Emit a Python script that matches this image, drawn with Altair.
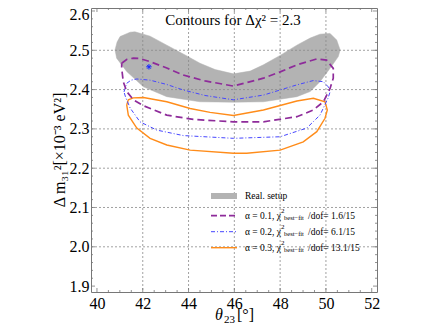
import altair as alt
import pandas as pd

# ---------------- data ----------------
# Real setup (grey band), closed outline
real_theta = [40.79, 40.88, 41.01, 41.45, 41.66, 42.32, 43.05, 43.85, 44.50, 45.16, 45.96, 46.69,
              47.27, 48.00, 48.73, 49.31, 49.74, 50.18, 50.47, 50.62, 50.54, 50.18, 49.74, 49.31,
              48.73, 47.27, 45.96, 44.50, 43.05, 42.03, 41.30, 40.86]
real_dm = [2.501, 2.521, 2.535, 2.546, 2.547, 2.536, 2.513, 2.488, 2.467, 2.451, 2.440, 2.447,
           2.463, 2.487, 2.513, 2.531, 2.541, 2.543, 2.526, 2.501, 2.484, 2.454, 2.420, 2.395,
           2.382, 2.369, 2.368, 2.369, 2.382, 2.407, 2.446, 2.480]

# alpha = 0.1 (purple dashed)
a1_theta = [41.08, 41.31, 41.59, 41.88, 42.32, 43.05, 43.77, 44.72, 45.96, 47.27, 48.00, 48.73,
            49.60, 50.03, 50.32, 50.32, 50.18, 49.89, 49.45, 48.73, 47.27, 45.96, 44.21, 43.05,
            42.03, 41.59, 41.30, 41.15, 41.08]
a1_dm = [2.467, 2.477, 2.480, 2.479, 2.471, 2.455, 2.437, 2.422, 2.409, 2.429, 2.445, 2.463,
         2.478, 2.475, 2.454, 2.429, 2.403, 2.369, 2.348, 2.331, 2.318, 2.318, 2.324, 2.335,
         2.359, 2.374, 2.395, 2.420, 2.454]

# alpha = 0.2 (blue dot-dashed)
a2_theta = [41.18, 41.30, 41.49, 41.74, 42.32, 43.05, 43.77, 44.72, 45.96, 47.27, 48.73, 49.45,
            49.89, 50.10, 50.18, 50.09, 49.74, 49.16, 48.00, 45.96, 43.77, 42.61, 41.88, 41.45,
            41.25]
a2_dm = [2.394, 2.416, 2.424, 2.427, 2.424, 2.413, 2.399, 2.385, 2.374, 2.386, 2.412, 2.423,
         2.420, 2.407, 2.394, 2.378, 2.335, 2.302, 2.280, 2.276, 2.283, 2.297, 2.318, 2.353,
         2.381]

# alpha = 0.3 (orange solid)
a3_theta = [41.30, 41.37, 41.59, 42.03, 43.05, 44.07, 44.94, 45.96, 47.27, 48.73, 49.45, 49.96,
            50.06, 49.96, 49.60, 49.01, 48.00, 46.54, 45.96, 44.07, 43.05, 42.32, 41.74, 41.37]
a3_dm = [2.361, 2.374, 2.379, 2.380, 2.369, 2.352, 2.342, 2.334, 2.348, 2.371, 2.378, 2.369,
         2.348, 2.327, 2.293, 2.267, 2.246, 2.238, 2.238, 2.246, 2.259, 2.276, 2.302, 2.335]

best_theta = [42.27]
best_dm = [2.458]

x_ticks = [40, 42, 44, 46, 48, 50, 52]
y_ticks = [1.9, 2.0, 2.1, 2.2, 2.3, 2.4, 2.5, 2.6]
x_grid = [42, 44, 46, 48, 50]
y_grid = [2.0, 2.1, 2.2, 2.3, 2.4, 2.5]
x_minor = [40 + 0.5 * k for k in range(25) if k % 4 != 0]
y_minor = [round(1.9 + 0.02 * k, 2) for k in range(36) if k % 5 != 0]

title_text = "Contours for Δχ² = 2.3"
legend_real = "Real. setup"
legend_alpha = ["α = 0.1, χ", "α = 0.2, χ", "α = 0.3, χ"]
legend_dof = ["/dof= 1.6/15", "/dof= 6.1/15", "/dof= 13.1/15"]

# ---------------- layout ----------------
W, H = 286, 284
FONT = "Liberation Serif"
PURPLE = "#8e2b9a"
BLUE = "#4646ff"
ORANGE = "#ff8c1a"
GREY = "#b3b3b3"


def closed(th, dm):
    th = list(th) + [th[0]]
    dm = list(dm) + [dm[0]]
    return pd.DataFrame({"theta": th, "dm": dm, "i": list(range(len(th)))})


xsc = alt.Scale(domain=[39.74, 52.23], nice=False, zero=False)
ysc = alt.Scale(domain=[1.885, 2.6076], nice=False, zero=False)
xaxis = alt.Axis(values=x_ticks, title=None, ticks=False, domain=False, grid=False,
                 labelFont=FONT, labelFontSize=16, labelColor="black", labelPadding=3,
                 labelFlush=False)
yaxis = alt.Axis(values=y_ticks, format=".1f", title=None, ticks=False, domain=False,
                 grid=False, labelFont=FONT, labelFontSize=16, labelColor="black",
                 labelPadding=2, labelFlush=False,
                 labelOffset={"condition": {"test": "datum.value > 2.55", "value": 4}, "value": 0})


def X(f):
    return alt.X(f, type="quantitative", scale=xsc, axis=xaxis)


def Y(f):
    return alt.Y(f, type="quantitative", scale=ysc, axis=yaxis)


layers = []

# grey band
layers.append(alt.Chart(closed(real_theta, real_dm)).mark_line(
    fill=GREY, stroke=GREY, strokeWidth=0.5, fillOpacity=1).encode(
    x=X("theta"), y=Y("dm"), order="i:Q"))

# grid
gx = pd.DataFrame({"v": x_grid})
gy = pd.DataFrame({"v": y_grid})
layers.append(alt.Chart(gx).mark_rule(color="#8a8a8a", strokeDash=[2, 2], strokeWidth=0.8).encode(x=X("v")))
layers.append(alt.Chart(gy).mark_rule(color="#8a8a8a", strokeDash=[2, 2], strokeWidth=0.8).encode(y=Y("v")))

# contours
layers.append(alt.Chart(closed(a3_theta, a3_dm)).mark_line(color=ORANGE, strokeWidth=1.4).encode(
    x=X("theta"), y=Y("dm"), order="i:Q"))
layers.append(alt.Chart(closed(a2_theta, a2_dm)).mark_line(color=BLUE, strokeWidth=1.0,
                                                          strokeDash=[4, 2, 1, 2]).encode(
    x=X("theta"), y=Y("dm"), order="i:Q"))
layers.append(alt.Chart(closed(a1_theta, a1_dm)).mark_line(color=PURPLE, strokeWidth=1.7,
                                                          strokeDash=[7, 4]).encode(
    x=X("theta"), y=Y("dm"), order="i:Q"))

# best fit marker
star = "M-1,0L1,0M0,-1L0,1M-0.7,-0.7L0.7,0.7M-0.7,0.7L0.7,-0.7"
layers.append(alt.Chart(pd.DataFrame({"theta": best_theta, "dm": best_dm})).mark_point(
    shape=star, size=30, stroke="#1a2cff", strokeWidth=1.0, filled=False, opacity=1).encode(
    x=X("theta"), y=Y("dm")))

# frame ticks (inward)
TC = "#777777"
dxM = pd.DataFrame({"v": x_ticks})
dxm = pd.DataFrame({"v": x_minor})
dyM = pd.DataFrame({"v": y_ticks})
dym = pd.DataFrame({"v": y_minor})
for d, L in ((dxM, 4), (dxm, 2)):
    layers.append(alt.Chart(d).mark_rule(color=TC, strokeWidth=0.8).encode(
        x=X("v"), y=alt.value(H), y2=alt.value(H - L)))
    layers.append(alt.Chart(d).mark_rule(color=TC, strokeWidth=0.8).encode(
        x=X("v"), y=alt.value(0), y2=alt.value(L)))
for d, L in ((dyM, 4), (dym, 2)):
    layers.append(alt.Chart(d).mark_rule(color=TC, strokeWidth=0.8).encode(
        y=Y("v"), x=alt.value(0), x2=alt.value(L)))
    layers.append(alt.Chart(d).mark_rule(color=TC, strokeWidth=0.8).encode(
        y=Y("v"), x=alt.value(W), x2=alt.value(W - L)))

# title inside plot
layers.append(alt.Chart(pd.DataFrame({"t": [title_text]})).mark_text(
    font=FONT, fontSize=15, color="black", align="center", baseline="middle").encode(
    text="t:N", x=alt.value(142), y=alt.value(12)))

# axis titles as text
layers.append(alt.Chart(pd.DataFrame({"t": ["Δ m₃₁²[×10⁻³ eV²]"]})).mark_text(
    font=FONT, fontSize=16, color="black", align="center", baseline="middle", angle=270).encode(
    text="t:N", x=alt.value(-31), y=alt.value(142)))
layers.append(alt.Chart(pd.DataFrame({"t": ["θ"]})).mark_text(
    font=FONT, fontSize=16, fontStyle="italic", color="black", align="left",
    baseline="alphabetic").encode(text="t:N", x=alt.value(124), y=alt.value(312)))
layers.append(alt.Chart(pd.DataFrame({"t": ["23"]})).mark_text(
    font=FONT, fontSize=11, color="black", align="left", baseline="alphabetic").encode(
    text="t:N", x=alt.value(133), y=alt.value(315)))
layers.append(alt.Chart(pd.DataFrame({"t": ["[°]"]})).mark_text(
    font=FONT, fontSize=16, color="black", align="left", baseline="alphabetic").encode(
    text="t:N", x=alt.value(146), y=alt.value(312)))

# legend
rows_y = [207.7, 223.7, 239.7]
LX = 154
layers.append(alt.Chart(pd.DataFrame({"a": [0]})).mark_rule(color=GREY, strokeWidth=6).encode(
    x=alt.value(120), x2=alt.value(146), y=alt.value(188)))
layers.append(alt.Chart(pd.DataFrame({"t": [legend_real]})).mark_text(
    font=FONT, fontSize=9.5, color="black", align="left", baseline="middle").encode(
    text="t:N", x=alt.value(LX), y=alt.value(188)))
styles = [dict(color=PURPLE, strokeWidth=1.7, strokeDash=[6, 3]),
          dict(color=BLUE, strokeWidth=1.0, strokeDash=[4, 2, 1, 2]),
          dict(color=ORANGE, strokeWidth=1.4)]
for k in range(3):
    ry = rows_y[k]
    layers.append(alt.Chart(pd.DataFrame({"a": [0]})).mark_rule(**styles[k]).encode(
        x=alt.value(120), x2=alt.value(146), y=alt.value(ry)))
    layers.append(alt.Chart(pd.DataFrame({"t": [legend_alpha[k]]})).mark_text(
        font=FONT, fontSize=9.5, color="black", align="left", baseline="middle").encode(
        text="t:N", x=alt.value(LX), y=alt.value(ry)))
    layers.append(alt.Chart(pd.DataFrame({"t": ["2"]})).mark_text(
        font=FONT, fontSize=7, color="black", align="left", baseline="middle").encode(
        text="t:N", x=alt.value(LX + 36), y=alt.value(ry - 4.5)))
    layers.append(alt.Chart(pd.DataFrame({"t": ["best−fit"]})).mark_text(
        font=FONT, fontSize=6.5, color="black", align="left", baseline="middle").encode(
        text="t:N", x=alt.value(LX + 39), y=alt.value(ry + 2.5)))
    layers.append(alt.Chart(pd.DataFrame({"t": [legend_dof[k]]})).mark_text(
        font=FONT, fontSize=9.5, color="black", align="left", baseline="middle").encode(
        text="t:N", x=alt.value(LX + 63), y=alt.value(ry)))

chart = alt.layer(*layers).properties(
    width=W, height=H,
    autosize=alt.AutoSizeParams(type="none"),
    padding={"left": 83, "top": 0, "right": 30, "bottom": 32},
).configure_view(stroke="#777777", strokeWidth=1).configure_axis(
    labelFont=FONT, labelFontSize=16, labelColor="black"
)

chart.save("out.html", embed_options={"renderer": "svg", "actions": False})
